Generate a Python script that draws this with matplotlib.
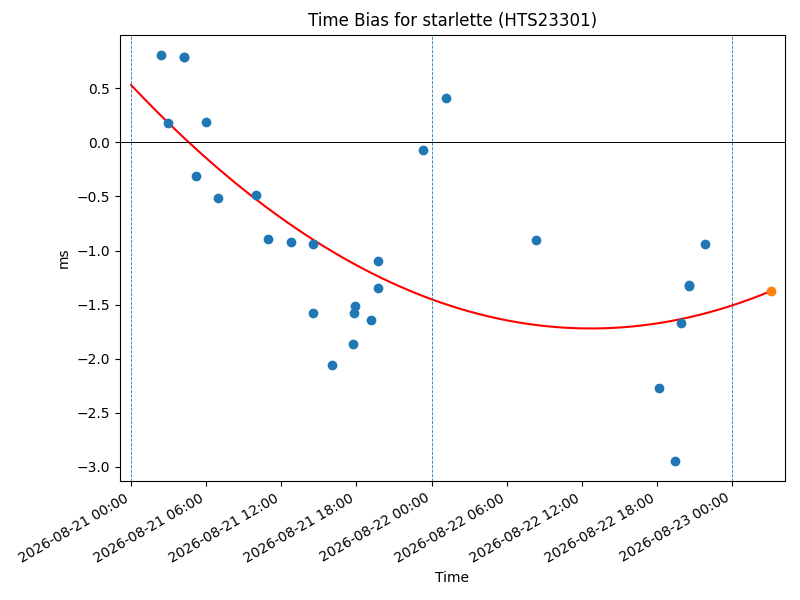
import matplotlib
matplotlib.use("Agg")
import matplotlib.pyplot as plt
import matplotlib.dates as mdates
import numpy as np
from datetime import datetime, timedelta

start = datetime(2026, 8, 21, 0, 0)

# hours since start, bias in ms
hours = [2.4, 2.96, 4.21, 4.25, 5.19, 5.99, 6.95, 9.98, 10.94, 12.78, 14.54,
         14.54, 16.05, 17.73, 17.81, 17.89, 19.17, 19.73, 19.73, 23.32, 25.16,
         32.35, 42.17, 43.45, 43.93, 44.55, 44.59, 45.85]
bias = [0.806, 0.176, 0.789, 0.784, -0.315, 0.185, -0.519, -0.491, -0.898, -0.917,
        -0.944, -1.574, -2.056, -1.861, -1.574, -1.509, -1.639, -1.093, -1.343,
        -0.074, 0.407, -0.907, -2.269, -2.944, -1.667, -1.322, -1.326, -0.944]

latest_hour = 51.1
latest_bias = -1.37

# quadratic fit coefficients (ms vs hours)
fit_coef = [0.00167, -0.1226, 0.53]

times = [start + timedelta(hours=h) for h in hours]
latest_time = start + timedelta(hours=latest_hour)

fit_h = np.linspace(0, latest_hour, 200)
fit_y = np.polyval(fit_coef, fit_h)
fit_t = [start + timedelta(hours=h) for h in fit_h]

fig, ax = plt.subplots(figsize=(8, 6), dpi=100)
ax.scatter(times, bias, color="C0", zorder=3)
ax.scatter([latest_time], [latest_bias], color="C1", zorder=3)
ax.plot(fit_t, fit_y, color="red")
ax.axhline(0, color="black", linewidth=0.7)
for d in range(3):
    ax.axvline(start + timedelta(days=d), color="C0", linestyle="--", linewidth=0.6)

ax.set_xlim(start - timedelta(hours=0.88), start + timedelta(hours=52.2))
ax.xaxis.set_major_locator(mdates.HourLocator(byhour=[0, 6, 12, 18]))
ax.xaxis.set_major_formatter(mdates.DateFormatter("%Y-%m-%d %H:%M"))
ax.set_title("Time Bias for starlette (HTS23301)")
ax.set_xlabel("Time")
ax.set_ylabel("ms")
fig.autofmt_xdate()
plt.subplots_adjust(left=0.15, right=0.981, top=0.942, bottom=0.198)
plt.savefig("out.png")
